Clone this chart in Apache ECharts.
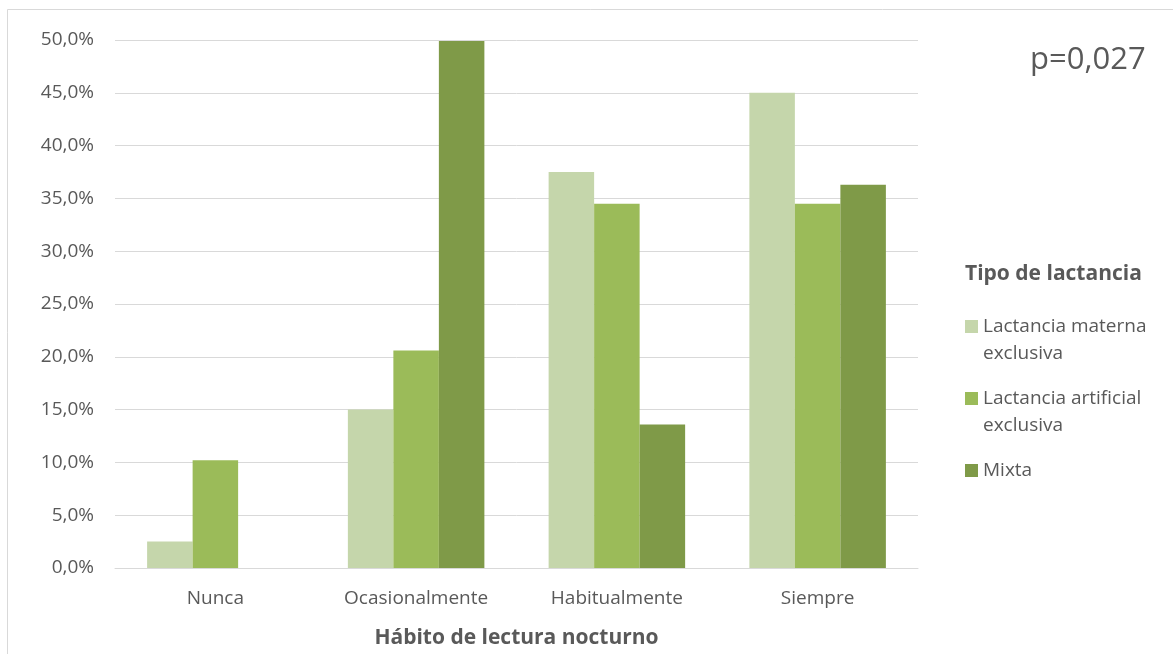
<!DOCTYPE html>
<html>
<head>
<meta charset="utf-8">
<script src="https://cdn.jsdelivr.net/npm/echarts@6/dist/echarts.min.js"></script>
<style>
  html, body { margin: 0; padding: 0; background: #fff; }
  #chart { width: 1173px; height: 654px; }
</style>
</head>
<body>
<div id="chart"></div>
<script>
// Hábito de lectura nocturno by tipo de lactancia (percent of each group)
const categories = ['Nunca', 'Ocasionalmente', 'Habitualmente', 'Siempre'];
const seriesNames = ['Lactancia materna\nexclusiva', 'Lactancia artificial\nexclusiva', 'Mixta'];
const maternaExclusiva = [2.5, 15.0, 37.5, 45.0];
const artificialExclusiva = [10.2, 20.6, 34.5, 34.5];
const mixta = [0.0, 49.9, 13.6, 36.3];
const seriesColors = ['#c5d6ab', '#9bbb59', '#7f9a48'];
const pValueText = 'p=0,027';

const FONT = '"Open Sans", "Noto Sans", sans-serif';
const TEXT = '#595959';
const LINE_H = 27;

// Legend swatch: a 13px square sitting on the first text line of a two-line label.
// The invisible move-to points stretch the icon box to the full two-line height.
const SWATCH = 'path://M0,7L13,7L13,20L0,20Z M0,0L0,0 M0,54L0,54';

const chart = echarts.init(document.getElementById('chart'), null, { renderer: 'canvas' });

const values = [maternaExclusiva, artificialExclusiva, mixta];

chart.setOption({
  animation: false,
  backgroundColor: '#ffffff',
  textStyle: { fontFamily: FONT, color: TEXT },
  grid: { left: 115, right: 255, top: 40, bottom: 86, containLabel: false },
  xAxis: {
    type: 'category',
    data: categories,
    axisTick: { show: false },
    axisLine: { lineStyle: { color: '#d9d9d9', width: 1 } },
    axisLabel: { color: TEXT, fontSize: 19, fontFamily: FONT, margin: 21 },
    name: 'Hábito de lectura nocturno',
    nameLocation: 'middle',
    nameGap: 60,
    nameTextStyle: { color: TEXT, fontSize: 21, fontWeight: 'bold', fontFamily: FONT }
  },
  yAxis: {
    type: 'value',
    min: 0,
    max: 50,
    interval: 5,
    axisLine: { show: false },
    axisTick: { show: false },
    splitLine: { lineStyle: { color: '#d9d9d9', width: 1 } },
    axisLabel: {
      color: TEXT, fontSize: 19, fontFamily: FONT, margin: 21,
      formatter: v => v.toFixed(1).replace('.', ',') + '%'
    }
  },
  legend: {
    orient: 'vertical',
    left: 965,
    top: 313,
    padding: 0,
    itemWidth: 13,
    itemHeight: 2 * LINE_H,
    itemGap: 18,
    symbolKeepAspect: false,
    textStyle: { color: TEXT, fontSize: 19, fontFamily: FONT, lineHeight: LINE_H },
    formatter: name => name.indexOf('\n') < 0 ? name + '\n ' : name,
    data: seriesNames.map(n => ({ name: n, icon: SWATCH }))
  },
  series: seriesNames.map((name, i) => ({
    name: name,
    type: 'bar',
    data: values[i],
    barGap: '0%',
    barCategoryGap: '32%',
    itemStyle: { color: seriesColors[i] }
  })),
  graphic: [
    {
      type: 'rect',
      shape: { x: 7.5, y: 9.5, width: 1200, height: 700 },
      style: { fill: 'none', stroke: '#d9d9d9', lineWidth: 1 },
      silent: true, z: -1
    },
    {
      type: 'text',
      left: 965, top: 264,
      style: { text: 'Tipo de lactancia', fill: TEXT, fontSize: 21, fontWeight: 'bold', fontFamily: FONT }
    },
    {
      type: 'text',
      left: 1030, top: 45,
      style: { text: pValueText, fill: TEXT, fontSize: 31, fontFamily: FONT }
    }
  ]
});
</script>
</body>
</html>
